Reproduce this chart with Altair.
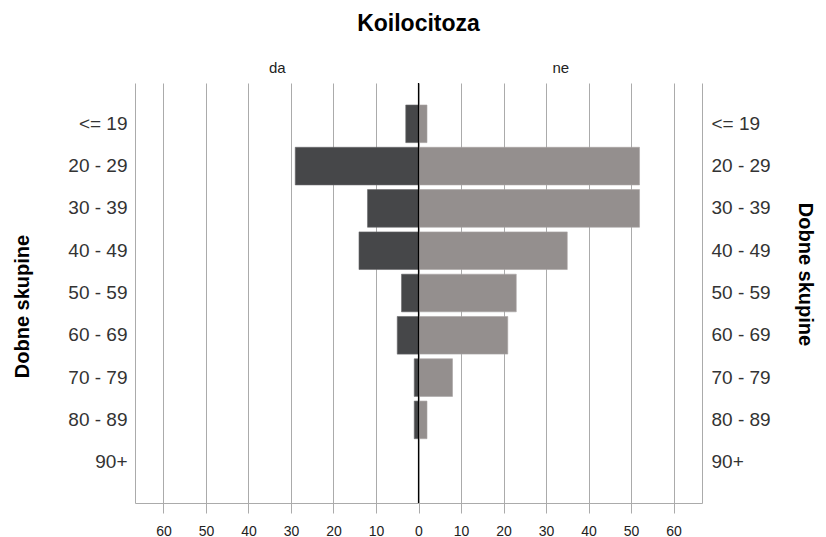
import altair as alt
import pandas as pd

# ---- data ----
age_groups = ["<= 19", "20 - 29", "30 - 39", "40 - 49", "50 - 59",
              "60 - 69", "70 - 79", "80 - 89", "90+"]
da_counts = [3, 29, 12, 14, 4, 5, 1, 1, 0]
ne_counts = [2, 52, 52, 35, 23, 21, 8, 2, 0]
x_ticks = [-60, -50, -40, -30, -20, -10, 0, 10, 20, 30, 40, 50, 60]
x_domain = [-66.7, 66.7]
side_labels = ["da", "ne"]

df = pd.DataFrame({"group": age_groups, "da": da_counts, "ne": ne_counts})
zero_df = pd.DataFrame({"zero": [0]})

FONT = "Liberation Sans"
GRID = "#ababab"

xscale = alt.Scale(domain=x_domain, nice=False, zero=False)
yscale = alt.Scale(domain=age_groups, paddingInner=0.11, paddingOuter=0.52)

side_centers = [x_domain[0] / 2, x_domain[1] / 2]

da_layer = alt.Chart(df).transform_calculate(
    neg_da="-datum.da"
).mark_bar(color="#464749", stroke="#6a6a6b", strokeWidth=0.6).encode(
    y=alt.Y("group:N", sort=age_groups, scale=yscale,
            axis=alt.Axis(orient="left", title="Dobne skupine",
                          titleFont=FONT, titleFontSize=20, titleFontWeight="bold",
                          titleColor="#000", titleAngle=-90, titleBaseline="alphabetic",
                          titleAlign="center", titleX=-107, titleY=223,
                          labelFont=FONT, labelFontSize=19, labelColor="#333",
                          labelPadding=8, ticks=False, grid=False,
                          domainColor=GRID, domainWidth=1)),
    x=alt.X("neg_da:Q", scale=xscale,
            axis=alt.Axis(orient="bottom", title=None, values=x_ticks,
                          labelExpr="abs(datum.value)",
                          labelFont=FONT, labelFontSize=14, labelColor="#222",
                          labelPadding=11, tickSize=10, tickColor=GRID,
                          grid=True, gridColor=GRID, gridWidth=1,
                          domainColor=GRID, domainWidth=1)),
)

ne_layer = alt.Chart(df).mark_bar(color="#948f8e", stroke="#a9a5a4", strokeWidth=0.6).encode(
    y=alt.Y("group:N", sort=age_groups, scale=yscale,
            axis=alt.Axis(orient="right", title="Dobne skupine",
                          titleFont=FONT, titleFontSize=20, titleFontWeight="bold",
                          titleColor="#000", titleAngle=90, titleBaseline="alphabetic",
                          titleAlign="center", titleX=96, titleY=191,
                          labelFont=FONT, labelFontSize=19, labelColor="#333",
                          labelPadding=9, ticks=False, grid=False,
                          domainColor=GRID, domainWidth=1)),
    x=alt.X("ne:Q", scale=xscale,
            axis=alt.Axis(orient="top", title=None, values=side_centers,
                          labelExpr="datum.value < 0 ? '%s' : '%s'" % tuple(side_labels),
                          labelFont=FONT, labelFontSize=15, labelColor="#222",
                          labelPadding=8, ticks=False, grid=False, domain=False)),
)

zero_line = alt.Chart(zero_df).mark_rule(color="#000", strokeWidth=1.2).encode(
    x=alt.X("zero:Q", scale=xscale, axis=None)
)

chart = alt.layer(da_layer, ne_layer, zero_line).resolve_axis(
    x="independent", y="independent"
).properties(
    width=567, height=420,
    title=alt.TitleParams("Koilocitoza", font=FONT, fontSize=23, fontWeight="bold",
                          color="#000", anchor="middle", offset=24),
    padding={"left": 127, "top": 75, "right": 116, "bottom": 34},
    autosize=alt.AutoSizeParams(type="none"),
).configure_view(stroke=None)

chart.save("out.html", embed_options={"renderer": "svg", "actions": False})
